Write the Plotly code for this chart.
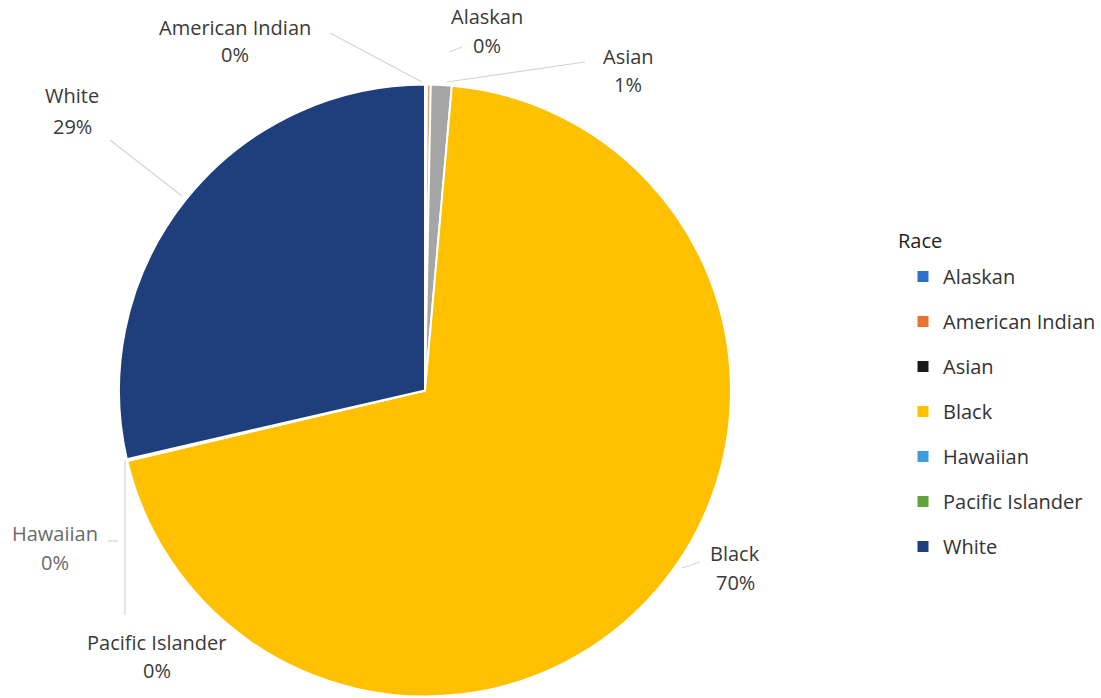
import plotly.graph_objects as go

W, H = 1101, 698

categories = ["Alaskan", "American Indian", "Asian", "Black", "Hawaiian", "Pacific Islander", "White"]
values = [0.1, 0.2, 1.1, 69.9, 0.05, 0.05, 28.6]
slice_colors = ["#3d72c9", "#e0a070", "#a5a5a5", "#ffc000", "#5b9bd5", "#70ad47", "#1f3f7c"]
legend_colors = ["#2e6fcb", "#e8722e", "#1a1a1a", "#ffc000", "#3d9be0", "#5fa33a", "#1f3f7c"]

total = sum(values)
pct = [f"{round(v / total * 100)}%" for v in values]

FONT = "Open Sans, sans-serif"
FS = 20


def px(x):
    return x / W


def py(y):
    return 1 - y / H


fig = go.Figure()
fig.add_trace(go.Pie(
    labels=categories, values=values, sort=False, direction="clockwise", rotation=0,
    marker=dict(colors=slice_colors, line=dict(color="white", width=2)),
    textinfo="none", hoverinfo="label+percent", showlegend=False,
    domain=dict(x=[px(119), px(731)], y=[py(697), py(84)]),
))

for c, col in zip(categories, legend_colors):
    fig.add_trace(go.Scatter(
        x=[None], y=[None], mode="markers", name=c, legendgroup=c,
        marker=dict(symbol="square", size=11, color=col),
    ))

# label positions (pixel centres of the two text lines)
label_pos = {
    "American Indian": (235, 27, 55),
    "Alaskan": (487, 17, 46),
    "Asian": (628, 57, 85),
    "White": (72, 96, 127),
    "Hawaiian": (55, 533, 562),
    "Pacific Islander": (157, 642, 670),
    "Black": (735, 553, 582),
}
ann = []
for c, p in zip(categories, pct):
    x, y1, y2 = label_pos[c]
    col = "#6a6a6a" if c == "Hawaiian" else "#3a3a3a"
    ann.append(dict(x=px(x), y=py(y1), xref="paper", yref="paper", text=c, showarrow=False,
                    font=dict(size=FS, color=col), xanchor="center", yanchor="middle"))
    ann.append(dict(x=px(x), y=py(y2), xref="paper", yref="paper", text=p, showarrow=False,
                    font=dict(size=FS, color=col), xanchor="center", yanchor="middle"))

ann.append(dict(x=px(896), y=py(241), xref="paper", yref="paper", text="Race", showarrow=False,
                font=dict(size=FS, color="#1e1e1e"), xanchor="left", yanchor="middle"))

lines = [
    (330, 33, 422, 82),
    (585, 62, 447, 82),
    (449, 52, 462, 47),
    (110, 140, 182, 196),
    (125, 460, 125, 615),
    (108, 541, 118, 541),
    (700, 562, 682, 568),
]
shapes = [dict(type="line", xref="paper", yref="paper", x0=px(a), y0=py(b), x1=px(c), y1=py(d),
               line=dict(color="#d4d4d4", width=1.2)) for a, b, c, d in lines]

fig.update_layout(
    width=W, height=H,
    margin=dict(l=0, r=0, t=0, b=0),
    paper_bgcolor="white", plot_bgcolor="white",
    font=dict(family=FONT, size=FS, color="#3a3a3a"),
    xaxis=dict(visible=False), yaxis=dict(visible=False),
    legend=dict(
        x=px(903), y=py(257), xanchor="left", yanchor="top",
        font=dict(size=FS, color="#333333"), tracegroupgap=16,
        itemclick=False, bgcolor="rgba(0,0,0,0)",
    ),
    annotations=ann, shapes=shapes,
)

fig.write_html("out.html", config={"displayModeBar": False},
               post_script="document.body.style.margin='0px';")
